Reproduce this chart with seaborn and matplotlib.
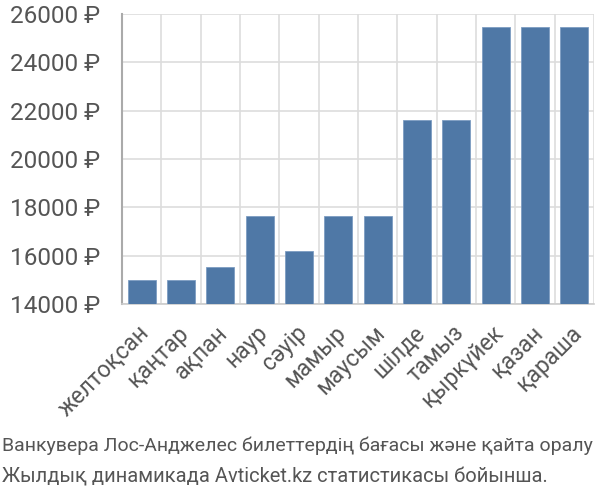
import matplotlib
matplotlib.use("Agg")
import matplotlib.pyplot as plt
import matplotlib.transforms as mtransforms
import seaborn as sns
import pandas as pd
import numpy as np
from matplotlib.ticker import FixedLocator, FuncFormatter

months = ["желтоқсан", "қаңтар", "ақпан", "наур", "сәуір", "мамыр",
          "маусым", "шілде", "тамыз", "қыркүйек", "қазан", "қараша"]
prices = [15000, 15000, 15540, 17650, 16190, 17650,
          17650, 21610, 21610, 25470, 25470, 25470]
y_ticks = [14000, 16000, 18000, 20000, 22000, 24000, 26000]
caption = ["Ванкувера Лос-Анджелес билеттердің бағасы және қайта оралу",
           "Жылдық динамикада Avticket.kz статистикасы бойынша."]

sns.set_style("white")
plt.rcParams['font.family'] = ['Roboto', 'DejaVu Sans']

df = pd.DataFrame({"month": months, "price": prices})

fig = plt.figure(figsize=(6, 5), dpi=100)
ax = fig.add_axes([122/600, 1-304/500, (594-122)/600, (304-14)/500])

sns.barplot(data=df, x="month", y="price", color="#4f78a6", saturation=1,
            width=0.71, edgecolor="#7d9cc2", linewidth=0.6, ax=ax, zorder=3)

ax.set_ylim(14000, 26000)
ax.set_xlim(-0.5, len(months) - 0.5)
ax.set_xlabel("")
ax.set_ylabel("")

grid_c = "#dddddd"
ax.set_yticks(y_ticks)
ax.yaxis.set_major_formatter(FuncFormatter(lambda v, p: f"{int(v)} ₽"))
ax.tick_params(axis="y", length=14.5, color=grid_c, width=1.2, labelsize=17.5,
               labelcolor="#555555", pad=1)
ax.grid(axis="y", color=grid_c, linewidth=1.2, zorder=0)

bounds = np.arange(-0.5, len(months), 1.0)
ax.xaxis.set_major_locator(FixedLocator(bounds))
ax.xaxis.set_major_formatter(FuncFormatter(lambda v, p: ""))
ax.set_xticks(np.arange(len(months)), months, minor=True)
ax.tick_params(axis="x", which="major", length=19, color=grid_c, width=1.2)
ax.tick_params(axis="x", which="minor", length=0, labelsize=16.5,
               labelcolor="#555555", pad=11)
shift = mtransforms.ScaledTranslation(-4/100, -2/100, fig.dpi_scale_trans)
for lab in ax.get_xticklabels(minor=True):
    lab.set_rotation(45)
    lab.set_ha("right")
    lab.set_va("top")
    lab.set_rotation_mode("anchor")
    lab.set_transform(lab.get_transform() + shift)
ax.grid(axis="x", which="major", color=grid_c, linewidth=1.2, zorder=0)

for s in ["top", "right"]:
    ax.spines[s].set_visible(False)
ax.spines["left"].set_color("#aaaaaa")
ax.spines["left"].set_linewidth(1.5)
ax.spines["bottom"].set_color("#cccccc")
ax.spines["bottom"].set_linewidth(1.2)

cap_font = dict(color="#555555", family=['Roboto', 'DejaVu Sans'], va="center")
fig.text(0.003, 1-446/500, caption[0], fontsize=14, **cap_font)
fig.text(0.003, 1-477/500, caption[1], fontsize=14.5, **cap_font)

fig.savefig("out.png", dpi=100)
